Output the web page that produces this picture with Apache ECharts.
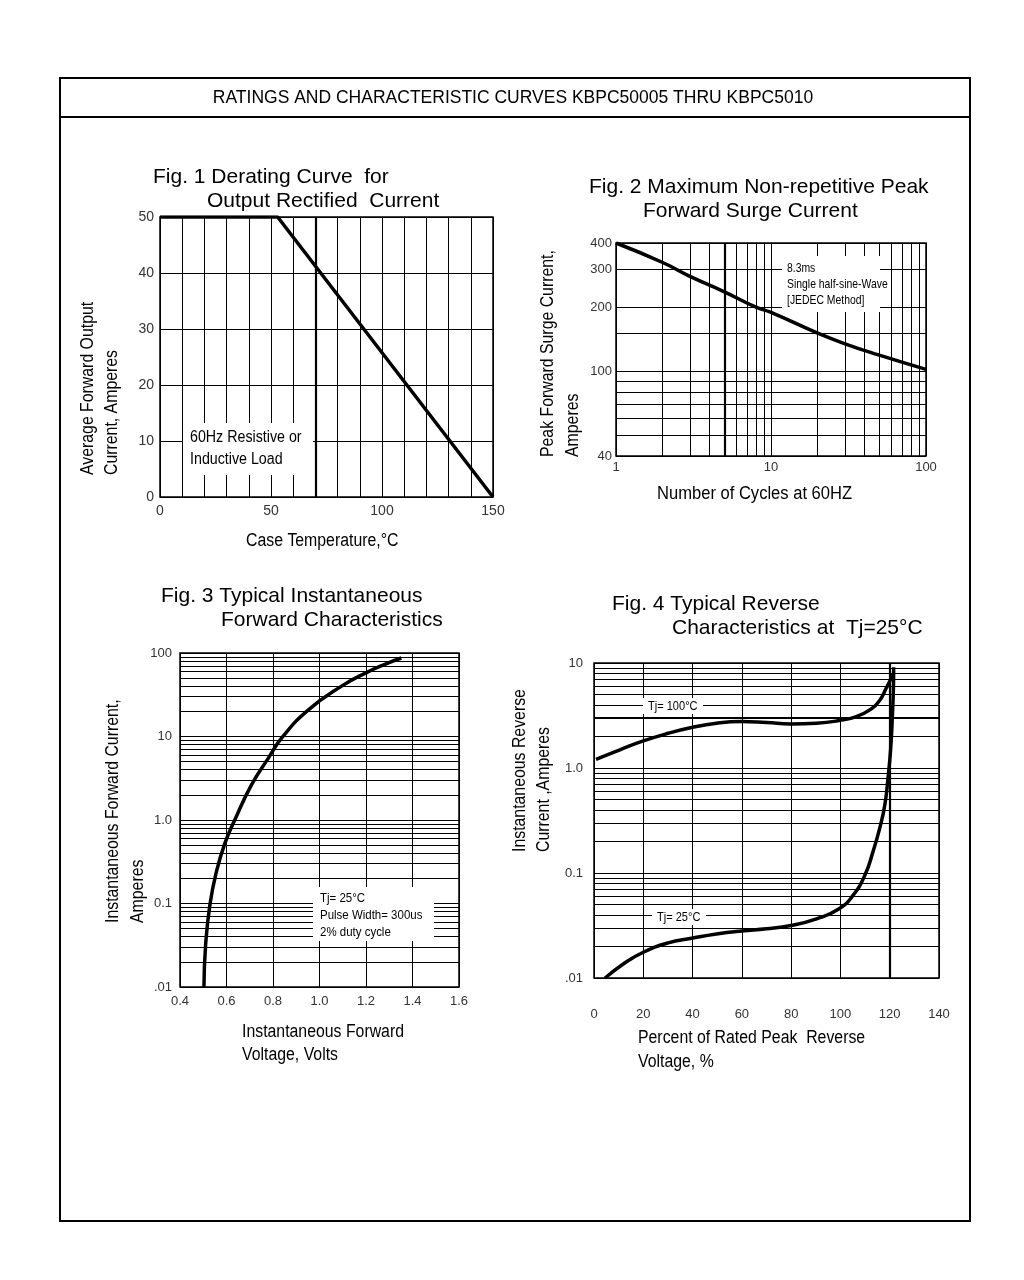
<!DOCTYPE html>
<html>
<head>
<meta charset="utf-8">
<title>KBPC50005 THRU KBPC5010</title>
<script src="https://cdn.jsdelivr.net/npm/echarts@6.0.0/dist/echarts.min.js"></script>
<style>
  html, body { margin: 0; padding: 0; background: #fff; }
  #main { width: 1024px; height: 1280px; }
</style>
</head>
<body>
<div id="main"></div>
<script>
// Fig. 1 derating curve
const fig1Temp = [0, 53, 150]
const fig1Current = [50, 50, 0]
const fig1XLabels = [0, 50, 100, 150]

// Fig. 2 surge current (log / log)
const fig2Cycles = [1, 2, 3, 5, 8, 10, 20, 30, 50, 100]
const fig2Surge = [400, 324, 279, 236, 200, 189, 151, 134.5, 119, 102]
const fig2XTicks = [1, 2, 3, 4, 5, 6, 7, 8, 9, 10, 20, 30, 40, 50, 60, 70, 80, 90, 100]
const fig2XLabels = [1, 10, 100]
const fig2YTicks = [40, 50, 60, 70, 80, 90, 100, 150, 200, 300, 400]
const fig2YLabels = [40, 100, 200, 300, 400]

// Fig. 3 forward characteristics
const fig3Voltage = [0.503, 0.510, 0.529, 0.5575, 0.593, 0.636, 0.708, 0.780, 0.840, 0.951, 1.095, 1.202, 1.281, 1.352]
const fig3Current = [0.01, 0.0314, 0.098, 0.2455, 0.525, 1.005, 2.65, 5.51, 9.8, 20.7, 40.1, 58.3, 73.3, 87.1]
const fig3YTicks = [
  0.01, 0.02, 0.03, 0.04, 0.05, 0.06, 0.07, 0.08, 0.09,
  0.1, 0.2, 0.3, 0.4, 0.5, 0.6, 0.7, 0.8, 0.9,
  1, 2, 3, 4, 5, 6, 7, 8, 9,
  10, 20, 30, 40, 50, 60, 70, 80, 90, 100
]
const fig3YLabelValues = [0.01, 0.1, 1, 10, 100]
const fig3YLabelText = ['.01', '0.1', '1.0', '10', '100']

// Fig. 4 reverse characteristics
const fig4Percent100 = [0.8, 10.5, 20, 30.1, 39.6, 49.7, 59.9, 70, 79.9, 90.3, 99.5, 106.5, 111.9, 115.9, 118.6, 120.7, 121.1]
const fig4Current100 = [1.21, 1.49, 1.81, 2.14, 2.43, 2.67, 2.77, 2.71, 2.63, 2.67, 2.83, 3.09, 3.58, 4.4, 5.77, 7.3, 8.0]
const fig4Percent25 = [4.5, 11.9, 20, 30.1, 39.6, 49.7, 59.9, 70, 79.9, 90.3, 99.5, 105.1, 109.9, 113.2, 115.9, 118, 119.3, 120.4, 121.1, 121.5, 121.6]
const fig4Current25 = [0.01, 0.0136, 0.0176, 0.0216, 0.0239, 0.0263, 0.0281, 0.0294, 0.0316, 0.0366, 0.0456, 0.0612, 0.095, 0.159, 0.265, 0.443, 0.80, 1.54, 3.21, 5.77, 9.1]
const fig4YTicks = [
  0.01, 0.02, 0.03, 0.04, 0.05, 0.06, 0.07, 0.08, 0.09,
  0.1, 0.2, 0.3, 0.4, 0.5, 0.6, 0.7, 0.8, 0.9,
  1, 2, 3, 4, 5, 6, 7, 8, 9, 10
]
const fig4YLabelValues = [0.01, 0.1, 1, 10]
const fig4YLabelText = ['.01', '0.1', '1.0', '10']

const FONT = '"Liberation Sans", Arial, sans-serif'

function zip(xs, ys) {
  return xs.map((x, i) => [x, ys[i]])
}

function pick(values, labels) {
  return v => {
    const i = values.findIndex(t => Math.abs(t - v) < 1e-6 * Math.max(1, Math.abs(t)))
    return i < 0 ? '' : labels[i]
  }
}

function axis(gridIndex, o) {
  return {
    gridIndex,
    type: o.type || 'value',
    logBase: 10,
    min: o.min,
    max: o.max,
    interval: o.interval,
    axisLine: { show: false },
    axisTick: { show: false, customValues: o.ticks },
    splitLine: { show: true, lineStyle: { color: '#000', width: 1 } },
    axisLabel: {
      color: '#333',
      fontFamily: FONT,
      fontSize: o.fontSize || 13,
      margin: o.margin || 6,
      customValues: o.labels,
      formatter: o.formatter
    }
  }
}

function thick(data) {
  return {
    silent: true,
    symbol: ['none', 'none'],
    label: { show: false },
    lineStyle: { color: '#000', width: 2.2, type: 'solid' },
    data
  }
}

function txt(x, y, text, size, sx, extra) {
  return Object.assign({
    type: 'text', x, y, z: 10, scaleX: sx || 1,
    style: { text, fill: '#000', font: size + 'px ' + FONT, align: 'left', verticalAlign: 'middle' }
  }, extra)
}
// rotated text, reads bottom to top, anchored at its bottom end
function vtxt(x, y, text, size, sx) {
  return txt(x, y, text, size, sx, { rotation: Math.PI / 2 })
}
function whiteBox(x, y, w, h) {
  return { type: 'rect', z: 1, shape: { x, y, width: w, height: h }, style: { fill: '#fff' } }
}

const curve = { color: '#000', width: 3.5 }
const header = 'RATINGS AND CHARACTERISTIC CURVES KBPC50005 THRU KBPC5010'

const option = {
  animation: false,
  backgroundColor: '#fff',
  grid: [
    { left: 160, top: 217, width: 333, height: 280 },
    { left: 616, top: 243, width: 310, height: 213 },
    { left: 180, top: 653, width: 279, height: 334 },
    { left: 594, top: 663, width: 345, height: 315 }
  ].map(g => Object.assign({ show: true, borderColor: '#000', borderWidth: 1.5, containLabel: false, outerBoundsMode: 'none' }, g)),
  xAxis: [
    axis(0, { min: 0, max: 150, interval: 10, labels: fig1XLabels, fontSize: 14, margin: 7 }),
    axis(1, { type: 'log', min: 1, max: 100, ticks: fig2XTicks, labels: fig2XLabels, margin: 5 }),
    axis(2, { min: 0.4, max: 1.6, interval: 0.2, margin: 8, formatter: v => v.toFixed(1) }),
    axis(3, { min: 0, max: 140, interval: 20, margin: 30 })
  ],
  yAxis: [
    axis(0, { min: 0, max: 50, interval: 10, fontSize: 14, margin: 6 }),
    axis(1, { type: 'log', min: 40, max: 400, ticks: fig2YTicks, labels: fig2YLabels, margin: 4 }),
    axis(2, { type: 'log', min: 0.01, max: 100, ticks: fig3YTicks, labels: fig3YLabelValues,
      formatter: pick(fig3YLabelValues, fig3YLabelText), margin: 8 }),
    axis(3, { type: 'log', min: 0.01, max: 10, ticks: fig4YTicks, labels: fig4YLabelValues,
      formatter: pick(fig4YLabelValues, fig4YLabelText), margin: 11 })
  ],
  series: [
    {
      name: 'Derating', type: 'line', xAxisIndex: 0, yAxisIndex: 0,
      data: zip(fig1Temp, fig1Current), symbol: 'none', lineStyle: curve,
      markLine: thick([{ xAxis: 70 }])
    },
    {
      name: 'Surge', type: 'line', xAxisIndex: 1, yAxisIndex: 1,
      data: zip(fig2Cycles, fig2Surge), symbol: 'none', smooth: 0.5, lineStyle: curve,
      markLine: thick([{ xAxis: 5 }])
    },
    {
      name: 'Forward', type: 'line', xAxisIndex: 2, yAxisIndex: 2,
      data: zip(fig3Voltage, fig3Current), symbol: 'none', smooth: 0.5, lineStyle: curve
    },
    {
      name: 'Tj=100', type: 'line', xAxisIndex: 3, yAxisIndex: 3,
      data: zip(fig4Percent100, fig4Current100), symbol: 'none', smooth: 0.5, lineStyle: curve
    },
    {
      name: 'Tj=25', type: 'line', xAxisIndex: 3, yAxisIndex: 3,
      data: zip(fig4Percent25, fig4Current25), symbol: 'none', smooth: 0.5, lineStyle: curve,
      markLine: thick([{ xAxis: 120 }, { yAxis: 3 }])
    }
  ],
  graphic: [
    // page frame + header
    { type: 'rect', z: 0, shape: { x: 60, y: 78, width: 910, height: 1143 }, style: { fill: 'none', stroke: '#000', lineWidth: 2 } },
    { type: 'line', z: 0, shape: { x1: 60, y1: 117, x2: 970, y2: 117 }, style: { stroke: '#000', lineWidth: 2 } },
    txt(513, 98, header, 17.5, 1, {
      style: { text: header, fill: '#000', font: '17.5px ' + FONT, align: 'center', verticalAlign: 'middle' }
    }),

    // Fig. 1
    txt(153, 177, 'Fig. 1 Derating Curve  for', 21),
    txt(207, 201, 'Output Rectified  Current', 21),
    vtxt(88, 475, 'Average Forward Output', 18, 0.88),
    vtxt(112, 475, 'Current, Amperes', 18, 0.88),
    txt(246, 541, 'Case Temperature,°C', 18, 0.88),
    whiteBox(183, 423, 130, 52),
    txt(190, 438, '60Hz Resistive or', 16, 0.89),
    txt(190, 460, 'Inductive Load', 16, 0.89),

    // Fig. 2
    txt(589, 187, 'Fig. 2 Maximum Non-repetitive Peak', 21),
    txt(643, 211, 'Forward Surge Current', 21),
    vtxt(548, 457, 'Peak Forward Surge Current,', 18, 0.88),
    vtxt(573, 457, 'Amperes', 18, 0.88),
    txt(657, 494, 'Number of Cycles at 60HZ', 18, 0.92),
    whiteBox(782, 256, 98, 56),
    txt(787, 268, '8.3ms', 13, 0.8),
    txt(787, 284, 'Single half-sine-Wave', 13, 0.8),
    txt(787, 300, '[JEDEC Method]', 13, 0.8),

    // Fig. 3
    txt(161, 596, 'Fig. 3 Typical Instantaneous', 21),
    txt(221, 620, 'Forward Characteristics', 21),
    vtxt(113, 923, 'Instantaneous Forward Current,', 18, 0.88),
    vtxt(138, 923, 'Amperes', 18, 0.88),
    txt(242, 1032, 'Instantaneous Forward', 18, 0.88),
    txt(242, 1055, 'Voltage, Volts', 18, 0.88),
    whiteBox(313, 887, 121, 54),
    txt(320, 898, 'Tj= 25°C', 13.5, 0.85),
    txt(320, 915, 'Pulse Width= 300us', 13.5, 0.85),
    txt(320, 932, '2% duty cycle', 13.5, 0.85),

    // Fig. 4
    txt(612, 604, 'Fig. 4 Typical Reverse', 21),
    txt(672, 628, 'Characteristics at  Tj=25°C', 21),
    vtxt(520, 852, 'Instantaneous Reverse', 18, 0.88),
    vtxt(544, 852, 'Current ,Amperes', 18, 0.88),
    txt(638, 1038, 'Percent of Rated Peak  Reverse', 18, 0.88),
    txt(638, 1062, 'Voltage, %', 18, 0.88),
    whiteBox(643, 698, 60, 16),
    txt(648, 706, 'Tj= 100°C', 13, 0.85),
    whiteBox(652, 909, 54, 16),
    txt(657, 917, 'Tj= 25°C', 13, 0.85)
  ]
}

const chart = echarts.init(document.getElementById('main'))
chart.setOption(option)
</script>
</body>
</html>
